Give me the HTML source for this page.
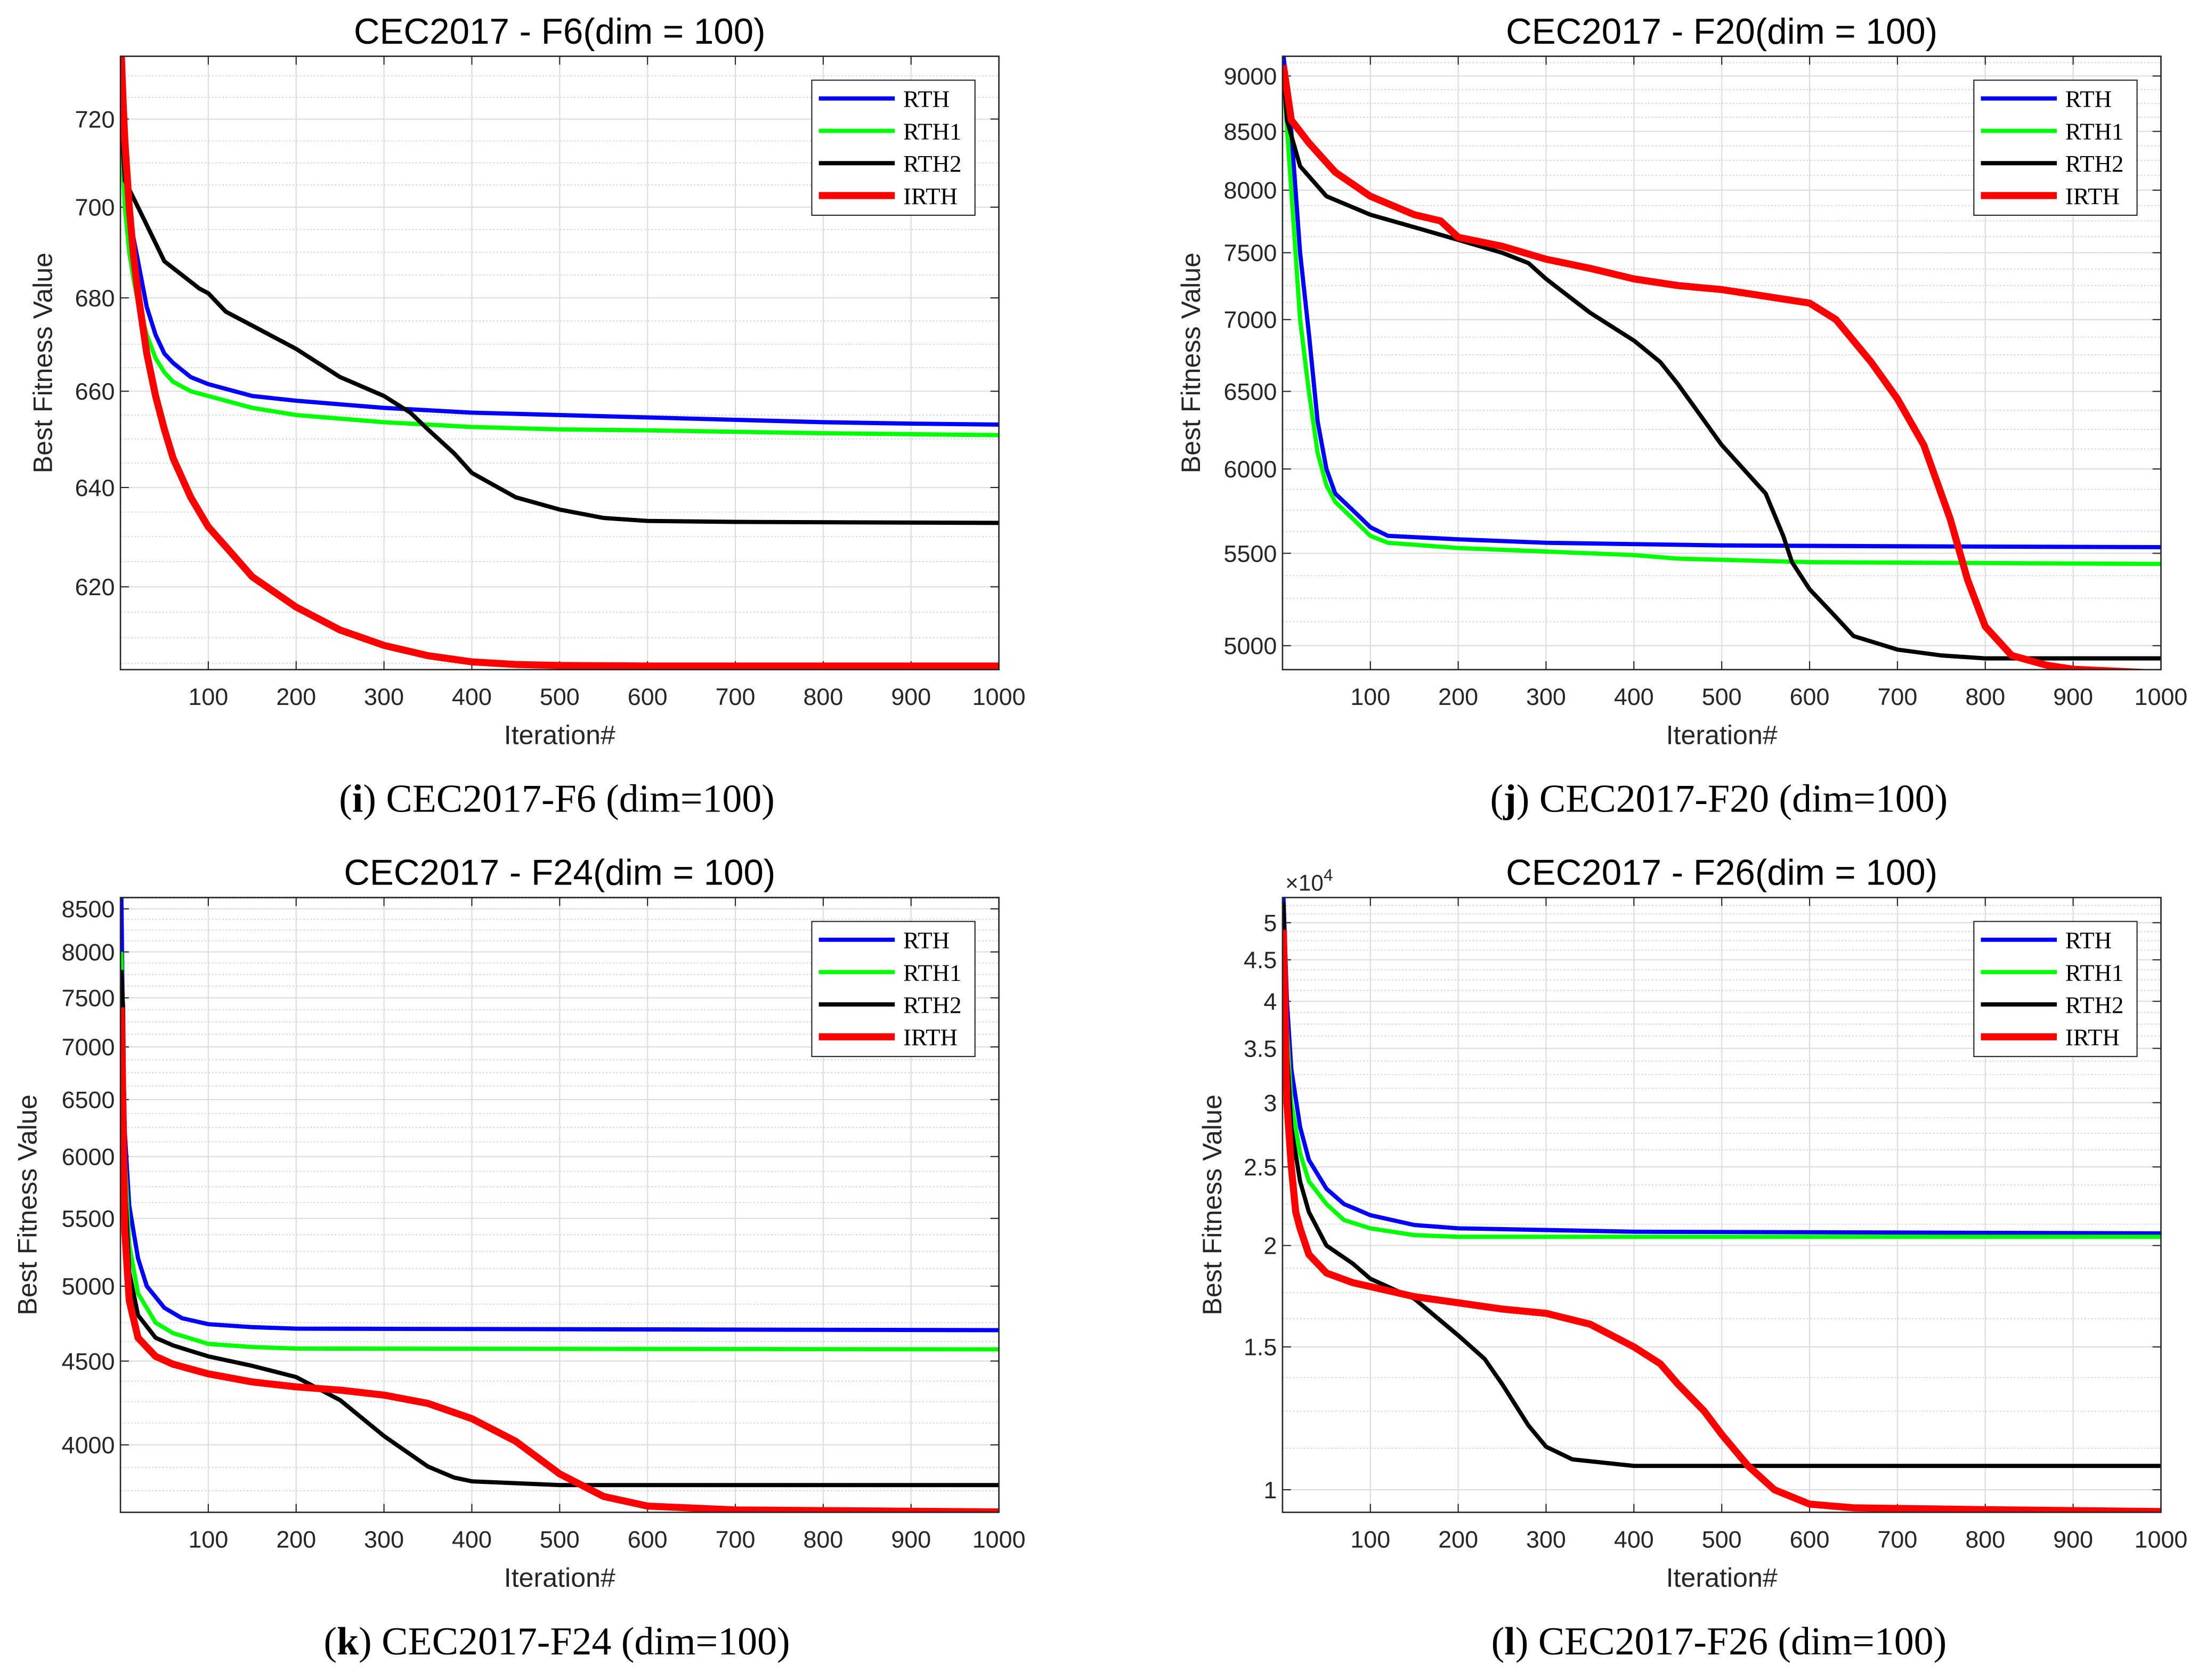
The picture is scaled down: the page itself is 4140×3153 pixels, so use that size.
<!DOCTYPE html>
<html><head><meta charset="utf-8"><style>
html,body{margin:0;padding:0;background:#fff;}
svg{display:block;}
text{font-family:"Liberation Sans",sans-serif;fill:#262626;}
.serif{font-family:"Liberation Serif",serif;fill:#000;}
</style></head><body>
<svg id="fig" xmlns="http://www.w3.org/2000/svg" width="4140" height="3153" viewBox="0 0 1568 1194.2"></svg>
<script>
// ---- Panel i (F6) ----
const iRthX=[1,5,10,15,20,30,40,50,60,80,100,150,200,300,400,500,600,700,800,900,1000];
const iRthY=[715,705,697,693,688,678,672,668,666,663,661.5,659,658,656.5,655.5,655,654.5,654,653.5,653.2,653];
const iRth1X=[1,5,10,15,20,30,40,50,60,80,100,150,200,300,400,500,600,700,800,900,1000];
const iRth1Y=[715,700,690,684,679,672,667,664,662,660,659,656.5,655,653.5,652.5,652,651.8,651.5,651.2,651,650.8];
const iRth2X=[1,5,20,30,50,70,90,100,120,150,200,250,300,330,350,380,400,450,500,550,600,700,1000];
const iRth2Y=[720,706,700,696,688,685,682,681,677,674,669,663,659,655.5,652,647,643,638,635.5,633.8,633.2,633,632.8];
const iIrthX=[1,3,5,10,15,20,30,40,50,60,80,100,125,150,200,250,300,350,400,450,500,600,1000];
const iIrthY=[735,724,715,700,689,681,668,659,652,646,638,632,627,622,616,611.5,608.5,606.5,605.3,604.8,604.6,604.5,604.5];
const iTicks=[620,640,660,680,700,720];
// ---- Panel j (F20) ----
const jRthX=[1,10,20,30,40,50,60,80,100,120,200,300,500,700,1000];
const jRthY=[9200,8500,7500,6900,6300,6000,5850,5750,5650,5600,5580,5560,5545,5540,5535];
const jRth1X=[1,10,20,30,40,50,60,80,100,120,200,300,400,450,600,1000];
const jRth1Y=[9000,8000,7000,6500,6100,5900,5800,5700,5600,5560,5530,5510,5490,5470,5450,5440];
const jRth2X=[1,5,20,50,100,150,200,250,280,300,350,400,430,450,500,550,570,580,600,630,650,700,750,800,1000];
const jRth2Y=[9100,8600,8200,7950,7800,7700,7600,7500,7420,7300,7050,6850,6700,6550,6150,5850,5600,5450,5300,5150,5050,4980,4950,4935,4935];
const jIrthX=[1,10,30,60,100,150,180,200,250,300,350,400,450,500,550,600,630,670,700,730,760,780,800,830,870,900,1000];
const jIrthY=[9100,8600,8400,8150,7950,7800,7750,7620,7550,7450,7380,7300,7250,7220,7170,7120,7000,6700,6450,6150,5700,5350,5100,4950,4900,4880,4860];
const jTicks=[5000,5500,6000,6500,7000,7500,8000,8500,9000];
// ---- Panel k (F24) ----
const kRthX=[1,3,5,10,20,30,50,70,100,150,200,1000];
const kRthY=[8700,7000,6200,5600,5200,5000,4850,4780,4740,4720,4710,4700];
const kRth1X=[1,5,10,20,40,60,100,150,200,1000];
const kRth1Y=[8000,6000,5300,4950,4750,4680,4610,4590,4580,4575];
const kRth2X=[1,3,5,10,20,40,60,100,150,200,250,300,350,380,400,500,1000];
const kRth2Y=[7800,7400,5800,5100,4800,4650,4600,4530,4470,4400,4260,4050,3880,3820,3800,3780,3780];
const kIrthX=[1,5,10,20,40,60,100,150,200,250,300,350,400,450,500,550,600,700,1000];
const kIrthY=[7400,5400,4900,4650,4530,4480,4420,4370,4340,4320,4290,4240,4150,4020,3840,3720,3670,3650,3640];
const kTicks=[4000,4500,5000,5500,6000,6500,7000,7500,8000,8500];
// ---- Panel l (F26, x1e4) ----
const lRthX=[1,5,10,20,30,50,70,100,150,200,300,400,1000];
const lRthY=[5.4,4.0,3.3,2.8,2.55,2.35,2.25,2.18,2.12,2.1,2.09,2.08,2.07];
const lRth1X=[1,5,10,20,30,50,70,100,150,200,1000];
const lRth1Y=[5.0,3.7,3.0,2.6,2.4,2.25,2.15,2.1,2.06,2.05,2.05];
const lRth2X=[1,5,10,20,30,50,80,100,150,200,230,250,280,300,330,400,1000];
const lRth2Y=[5.3,3.5,2.8,2.4,2.2,2.0,1.9,1.82,1.72,1.55,1.45,1.35,1.2,1.13,1.09,1.07,1.07];
const lIrthX=[1,5,10,15,20,30,50,80,100,150,200,250,300,350,400,430,450,480,500,530,560,600,650,800,1000];
const lIrthY=[4.9,3.0,2.5,2.2,2.1,1.95,1.85,1.8,1.78,1.73,1.7,1.67,1.65,1.6,1.5,1.43,1.35,1.25,1.17,1.07,1.0,0.96,0.95,0.945,0.94];
const lTicks=[1,1.5,2,2.5,3,3.5,4,4.5,5];
const lTickLabels=["1","1.5","2","2.5","3","3.5","4","4.5","5"];
const xTicks=[100,200,300,400,500,600,700,800,900,1000];
const legendNames=["RTH","RTH1","RTH2","IRTH"];

const NS="http://www.w3.org/2000/svg";
const svg=document.getElementById('fig');
function mk(tag,attrs,parent){const e=document.createElementNS(NS,tag);for(const k in attrs)e.setAttribute(k,attrs[k]);(parent||svg).appendChild(e);return e;}

const colors=["#0000ff","#00ff00","#000000","#ff0000"];
const widths=[3,3,3,5];

function panel(id,cfg){
  const g=mk('g',{});
  
  
  const {x0,x1,y0,y1,vTop,vBot}=cfg;
  const sx=v=>x0+(v-0)/1000*(x1-x0);
  const lt=Math.log(vTop),lb=Math.log(vBot);
  const sy=v=>y0+(lt-Math.log(v))/(lt-lb)*(y1-y0);
  const t=cfg.ticks; const step=t[1]-t[0];
  for(let v=t[0]-step;v<=t[t.length-1]+step;v+=step/4){
    if(v<=vBot||v>=vTop)continue;
    const y=sy(v);
    const ml=mk('line',{x1:x0,x2:x1,y1:y,y2:y,stroke:'#c8c8c8','stroke-width':0.6,'stroke-dasharray':'1,1.5'},g);
    
    
  }
  t.forEach((v,i)=>{
    const y=sy(v);
    const gl=mk('line',{x1:x0,x2:x1,y1:y,y2:y,stroke:'#dcdcdc','stroke-width':0.8},g);
    
    
    mk('line',{x1:x0,x2:x0+6,y1:y,y2:y,stroke:'#262626','stroke-width':0.8},g);
    mk('line',{x1:x1-6,x2:x1,y1:y,y2:y,stroke:'#262626','stroke-width':0.8},g);
    const tx=mk('text',{x:x0-4,y:y+6,'text-anchor':'end','font-size':17},g);
    tx.textContent=cfg.labels?cfg.labels[i]:String(v);
    
    
  });
  xTicks.forEach(v=>{
    const x=sx(v);
    const gl=mk('line',{x1:x,x2:x,y1:y0,y2:y1,stroke:'#dcdcdc','stroke-width':0.8},g);
    
    
    mk('line',{x1:x,x2:x,y1:y1,y2:y1-6,stroke:'#262626','stroke-width':0.8},g);
    mk('line',{x1:x,x2:x,y1:y0,y2:y0+6,stroke:'#262626','stroke-width':0.8},g);
    const tx=mk('text',{x:x,y:y1+25,'text-anchor':'middle','font-size':17},g);
    tx.textContent=String(v);
    
    
  });
  const cp=mk('clipPath',{id:'clip-'+id},g);
  mk('rect',{x:x0,y:y0,width:x1-x0,height:y1-y0},cp);
  cfg.series.forEach((s,i)=>{
    const d=s[0].map((xv,k)=>(k?'L':'M')+sx(xv).toFixed(2)+','+sy(s[1][k]).toFixed(2)).join(' ');
    const p=mk('path',{d:d,fill:'none',stroke:colors[i],'stroke-width':widths[i],'stroke-linejoin':'round','clip-path':'url(#clip-'+id+')'},g);
    
    
  });
  const box=mk('rect',{x:x0,y:y0,width:x1-x0,height:y1-y0,fill:'none',stroke:'#262626','stroke-width':1},g);
  
  
  const lx=x1-133, ly=y0+17;
  const lg=mk('g',{},g);
  
  
  mk('rect',{x:lx,y:ly,width:116,height:96,fill:'#fff',stroke:'#262626','stroke-width':0.8},lg);
  legendNames.forEach((n,i)=>{
    const yy=ly+13+i*23;
    const e=mk('g',{},lg);
    
    
    mk('line',{x1:lx+5,x2:lx+59,y1:yy,y2:yy,stroke:colors[i],'stroke-width':widths[i]},e);
    const tx=mk('text',{x:lx+65,y:yy+6,'font-size':17,class:'serif'},e);
    tx.textContent=n;
  });
  const ti=mk('text',{x:(x0+x1)/2,y:y0-9,'text-anchor':'middle','font-size':25.5},g);
  ti.textContent=cfg.title; ti.style.fill='#000';
  
  
  const xl=mk('text',{x:(x0+x1)/2,y:y1+53,'text-anchor':'middle','font-size':19},g);
  xl.textContent='Iteration#';
  
  
  const yl=mk('text',{x:0,y:0,'text-anchor':'middle','font-size':19,transform:`translate(${cfg.ylx},${(y0+y1)/2}) rotate(-90)`},g);
  yl.textContent='Best Fitness Value';
  
  
  if(cfg.exp){
    const ex=mk('text',{x:x0+2,y:y0-5,'font-size':16},g);
    ex.textContent='×10';
    const sup=mk('tspan',{dy:-7,'font-size':12},ex);sup.textContent='4';
    
    
  }
  const cap=mk('text',{x:(x0+x1)/2-2,y:y1+101,'text-anchor':'middle','font-size':28,class:'serif'},g);
  cap.innerHTML=cfg.cap;
  
  
}

panel('f6',{x0:85.6,x1:710,y0:40,y1:476,vTop:734.6,vBot:603.8,ticks:iTicks,ylx:37,
  title:'CEC2017 - F6(dim = 100)',cap:'(<tspan font-weight="bold">i</tspan>) CEC2017-F6 (dim=100)',
  series:[[iRthX,iRthY],[iRth1X,iRth1Y],[iRth2X,iRth2Y],[iIrthX,iIrthY]]});
panel('f20',{x0:911.6,x1:1536,y0:40,y1:476,vTop:9185,vBot:4878,ticks:jTicks,ylx:853,
  title:'CEC2017 - F20(dim = 100)',cap:'(<tspan font-weight="bold">j</tspan>) CEC2017-F20 (dim=100)',
  series:[[jRthX,jRthY],[jRth1X,jRth1Y],[jRth2X,jRth2Y],[jIrthX,jIrthY]]});
panel('f24',{x0:85.6,x1:710,y0:638,y1:1075,vTop:8636,vBot:3638,ticks:kTicks,ylx:26,
  title:'CEC2017 - F24(dim = 100)',cap:'(<tspan font-weight="bold">k</tspan>) CEC2017-F24 (dim=100)',
  series:[[kRthX,kRthY],[kRth1X,kRth1Y],[kRth2X,kRth2Y],[kIrthX,kIrthY]]});
panel('f26',{x0:911.6,x1:1536,y0:638,y1:1075,vTop:5.37,vBot:0.938,ticks:lTicks,labels:lTickLabels,ylx:868,exp:true,
  title:'CEC2017 - F26(dim = 100)',cap:'(<tspan font-weight="bold">l</tspan>) CEC2017-F26 (dim=100)',
  series:[[lRthX,lRthY],[lRth1X,lRth1Y],[lRth2X,lRth2Y],[lIrthX,lIrthY]]});
</script>
</body></html>
